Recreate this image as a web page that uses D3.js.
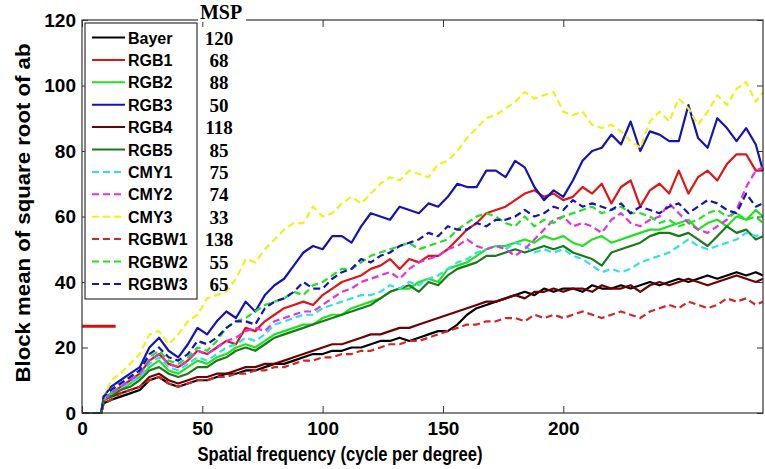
<!DOCTYPE html>
<html><head><meta charset="utf-8">
<script src="https://cdn.jsdelivr.net/npm/d3@7"></script>
<style>body{margin:0;background:#fff}svg{display:block}</style>
</head><body>
<svg id="c" width="765" height="469"></svg>
<script>
// shared x positions (cycle per degree)
const xs = [0,8,9,12,16,20,24,28,32,36,40,44,48,52,56,60,64,68,72,76,80,84,88,92,96,100,104,108,112,116,120,124,128,132,136,140,144,148,152,156,160,164,168,172,176,180,184,188,192,196,200,204,208,212,216,220,224,228,232,236,240,244,248,252,256,260,264,268,272,276,280,283];

const names = ["Bayer","RGB1","RGB2","RGB3","RGB4","RGB5","CMY1","CMY2","CMY3","RGBW1","RGBW2","RGBW3"];
const msp = ["120","68","88","50","118","85","75","74","33","138","55","65"];
const colors = ["#000000","#e01414","#22e022","#1414b4","#6e0000","#1a7a1a","#33e0e0","#e033e0","#f0f020","#d42424","#22e022","#1414b4"];
const dashed = [false,false,false,false,false,false,true,true,true,true,true,true];

const bayer = [0,0,3, 4,5,6,7,10,11,9,8,9,10, 10,11,12,12,13,13,14,15,15,16, 17,18,18,19,19,20,20,21,22,22, 23,22,23,24,25,25,27,30,32,33, 34,35,36,37,36,38,37,38,38,37, 39,38,38,39,38,39,40,39,40,41, 40,41,42,41,42,43,42,43, 42];
const rgb1 = [0,0,4, 6,8,10,12,16,18,15,14,16,19, 18,20,22,21,26,25,28,30,32,33, 34,33,36,38,40,41,42,44,45,47, 44,47,46,48,48,50,53,56,58,61, 62,63,65,67,68,66,67,65,66,69, 67,70,64,69,71,63,68,70,67,74, 67,72,74,71,76,79,79,74, 74];
const rgb2 = [0,0,4, 6,7,9,11,14,16,13,12,14,16, 15,17,18,20,21,20,22,24,25,26, 27,27,29,30,30,32,33,34,35,37, 38,38,40,41,40,44,45,46,48,50, 51,51,52,53,52,54,53,54,52,51, 53,54,52,53,54,55,56,56,57,58, 59,56,58,59,57,60,59,62, 60];
const rgb3 = [0,0,5, 8,10,12,14,20,23,19,17,21,26, 24,28,31,29,34,31,36,39,41,45, 49,51,50,54,54,52,57,61,60,59, 63,62,61,64,63,66,70,69,69,74, 74,72,77,75,69,65,68,66,71,77, 80,81,85,82,89,80,86,85,83,83, 94,84,81,90,87,83,87,82, 74];
const rgb4 = [0,0,4, 5,6,7,8,11,12,10,9,10,11, 11,12,12,13,14,14,15,15,16,17, 18,19,20,21,21,22,23,24,24,25, 26,26,27,28,29,30,31,32,33,34, 34,35,36,35,37,37,38,37,38,38, 37,39,38,38,39,37,39,40,39,40, 41,40,39,40,41,42,41,40, 41];
const rgb5 = [0,0,4, 5,7,8,10,13,14,12,11,12,14, 14,16,17,19,20,19,21,23,24,25, 26,27,28,29,30,31,32,33,35,37, 38,39,37,40,39,42,44,45,46,48, 48,49,50,49,50,51,50,51,49,48, 47,45,49,50,51,52,54,55,55,54, 55,53,51,54,57,55,56,53, 54];
const cmy1 = [0,0,4, 6,8,9,11,15,17,14,13,15,17, 16,18,20,21,23,22,24,27,28,29, 30,30,32,33,34,35,36,36,37,39, 38,40,39,41,42,44,46,47,49,50, 51,50,52,51,49,50,49,50,48,47, 45,43,44,43,44,46,47,48,49,51, 53,51,50,51,52,53,55,54, 55];
const cmy2 = [0,0,4, 6,8,10,12,16,18,15,14,16,19, 18,20,22,23,25,26,25,28,29,30, 31,31,33,35,37,38,40,41,42,43, 41,44,46,47,48,50,51,53,51,50, 51,50,48,50,53,56,59,60,57,58, 57,55,59,61,58,57,59,60,64,61, 58,56,55,57,59,62,69,74, 75];
const cmy3 = [0,0,4, 10,12,15,18,24,25,21,24,28,30, 35,36,37,41,47,46,50,53,56,58, 58,63,60,61,64,66,64,67,70,72, 71,74,73,72,76,77,80,84,87,90, 91,93,95,98,96,97,98,92,91,92, 88,87,88,86,83,81,89,92,89,96, 93,88,92,97,94,99,101,95, 98];
const rgbw1 = [0,0,3, 4,6,7,8,10,11,9,8,9,10, 10,11,11,12,12,13,13,14,14,15, 16,16,17,17,18,18,19,19,20,21, 21,22,22,23,24,25,26,27,27,28, 28,29,29,28,30,29,30,29,30,31, 30,29,30,31,30,29,31,32,33,32, 34,33,32,33,35,34,35,33, 34];
const rgbw2 = [0,0,5, 7,9,11,13,17,19,16,15,17,20, 19,22,26,28,29,31,33,34,35,37, 36,39,40,42,44,44,46,48,49,50, 51,52,50,51,52,53,56,58,60,61, 60,58,57,60,57,59,58,60,61,62, 63,61,62,63,61,61,60,58,59,57, 58,59,61,62,60,61,59,60, 58];
const rgbw3 = [0,0,5, 7,9,11,13,18,20,17,16,18,22, 21,23,26,28,28,27,32,34,35,37, 40,38,38,41,43,44,47,46,48,49, 51,52,53,55,54,57,56,56,58,57, 59,59,60,62,60,61,63,62,65,63, 64,63,62,64,61,63,62,61,63,64, 61,63,65,64,62,61,67,63, 64];

const series = [bayer,rgb1,rgb2,rgb3,rgb4,rgb5,cmy1,cmy2,cmy3,rgbw1,rgbw2,rgbw3];
const xTicks = [0,50,100,150,200];
const yTicks = [0,20,40,60,80,100,120];
const markX = [0,14];
const markY = 26.5;

const svg = d3.select("#c");
const x = d3.scaleLinear().domain([0,283]).range([82,763]);
const y = d3.scaleLinear().domain([0,120]).range([413,20]);
const sans = "'Liberation Sans', Arial, sans-serif";
const serif = "'Liberation Serif', 'Times New Roman', serif";

// data lines
const line = d3.line().x((d,i)=>x(xs[i])).y(d=>y(d));
series.forEach((s,k)=>{
  svg.append("path").attr("d", line(s)).attr("fill","none")
    .attr("stroke", colors[k]).attr("stroke-width", 2.2)
    .attr("stroke-linejoin","round")
    .attr("stroke-dasharray", dashed[k] ? "7,4" : null);
});

// short red mark
svg.append("line").attr("x1", x(markX[0])).attr("x2", x(markX[1]))
  .attr("y1", y(markY)).attr("y2", y(markY))
  .attr("stroke","#d41010").attr("stroke-width",3);

// axes
const axStroke = "#333";
const gB = svg.append("g").attr("transform","translate(0,413)")
  .call(d3.axisBottom(x).tickValues(xTicks).tickSizeInner(-7).tickSizeOuter(0).tickPadding(9));
const gL = svg.append("g").attr("transform","translate(82,0)")
  .call(d3.axisLeft(y).tickValues(yTicks).tickSizeInner(-6).tickSizeOuter(0).tickPadding(6));
const gR = svg.append("g").attr("transform","translate(763,0)")
  .call(d3.axisRight(y).tickValues(yTicks).tickSizeInner(-6).tickSizeOuter(0).tickFormat(""));
const gT = svg.append("g").attr("transform","translate(0,20)")
  .call(d3.axisTop(x).tickValues(xTicks).tickSizeInner(-7).tickSizeOuter(0).tickFormat(""));
[gB,gL,gR,gT].forEach(g=>{
  g.select(".domain").remove();
  g.selectAll("line").attr("stroke",axStroke);
  g.selectAll("text").attr("font-family",sans).attr("font-weight","bold")
    .attr("font-size",19).attr("fill","#000");
});
svg.append("rect").attr("x",82).attr("y",20).attr("width",681).attr("height",393)
  .attr("fill","none").attr("stroke",axStroke).attr("stroke-width",1.2);

// axis titles
svg.append("text").attr("x",340).attr("y",461).attr("text-anchor","middle")
  .attr("font-family",sans).attr("font-weight","bold").attr("font-size",20)
  .attr("textLength",285).attr("lengthAdjust","spacingAndGlyphs")
  .text("Spatial frequency (cycle per degree)");
svg.append("text").attr("transform","translate(30,213) rotate(-90)").attr("text-anchor","middle")
  .attr("font-family",sans).attr("font-weight","bold").attr("font-size",20)
  .attr("textLength",339).attr("lengthAdjust","spacingAndGlyphs")
  .text("Block mean of square root of ab");

// legend
svg.append("rect").attr("x",85).attr("y",23).attr("width",112).attr("height",276)
  .attr("fill","#fff").attr("stroke",axStroke).attr("stroke-width",1.2);
const row0 = 37.5, dRow = 22.4;
names.forEach((n,k)=>{
  const cy = row0 + k*dRow;
  svg.append("line").attr("x1",92).attr("x2",125).attr("y1",cy).attr("y2",cy)
    .attr("stroke",colors[k]).attr("stroke-width",2)
    .attr("stroke-dasharray", dashed[k] ? "7,4" : null);
  svg.append("text").attr("x",128).attr("y",cy+6)
    .attr("font-family",sans).attr("font-weight","bold").attr("font-size",16).text(n);
  svg.append("text").attr("x",219).attr("y",cy+7).attr("text-anchor","middle")
    .attr("font-family",serif).attr("font-weight","bold").attr("font-size",19).text(msp[k]);
});
svg.append("rect").attr("x",198).attr("y",0).attr("width",48).attr("height",22).attr("fill","#fff");
svg.append("text").attr("x",221).attr("y",19).attr("text-anchor","middle")
  .attr("font-family",serif).attr("font-weight","bold").attr("font-size",20).text("MSP");
</script>
</body></html>
